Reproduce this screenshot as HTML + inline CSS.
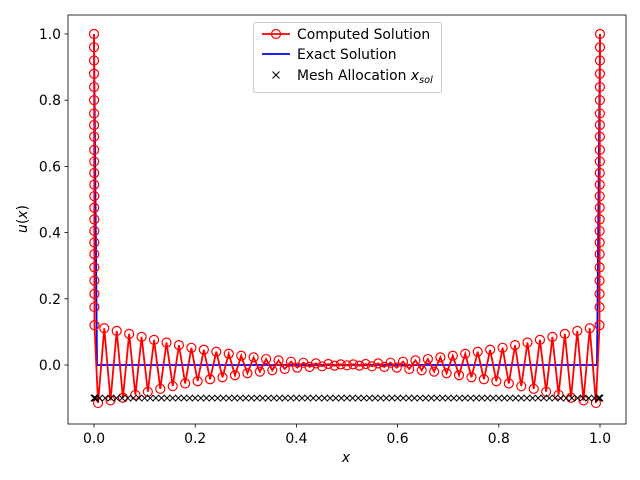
<!DOCTYPE html>
<html><head><meta charset="utf-8"><style>
body{margin:0;background:#fff;}
svg{display:block;font-family:"DejaVu Sans","Liberation Sans",sans-serif;}
</style></head><body>
<svg id="chart" width="640" height="480" viewBox="0 0 640 480"></svg>
<script>
const xTicks=[0,0.2,0.4,0.6,0.8,1.0];
const xTickLabels=["0.0","0.2","0.4","0.6","0.8","1.0"];
const yTicks=[0,0.2,0.4,0.6,0.8,1.0];
const yTickLabels=["0.0","0.2","0.4","0.6","0.8","1.0"];
const leftClusterY=[1.0,0.96,0.92,0.88,0.84,0.80,0.76,0.725,0.69,0.65,0.615,0.58,0.545,0.51,0.475,0.44,0.405,0.37,0.335,0.295,0.255,0.215,0.175,0.12];
const interiorX=[0.008,0.0203,0.0326,0.0449,0.0572,0.0695,0.0818,0.0941,0.1064,0.1187,
0.131,0.1433,0.1556,0.1679,0.1802,0.1925,0.2048,0.2171,0.2294,0.2417,
0.254,0.2663,0.2786,0.2909,0.3032,0.3155,0.3278,0.3401,0.3524,0.3647,
0.377,0.3893,0.4016,0.4139,0.4262,0.4385,0.4508,0.4631,0.4754,0.4877,
0.5,0.5123,0.5246,0.5369,0.5492,0.5615,0.5738,0.5861,0.5984,0.6107,
0.623,0.6353,0.6476,0.6599,0.6722,0.6845,0.6968,0.7091,0.7214,0.7337,
0.746,0.7583,0.7706,0.7829,0.7952,0.8075,0.8198,0.8321,0.8444,0.8567,
0.869,0.8813,0.8936,0.9059,0.9182,0.9305,0.9428,0.9551,0.9674,0.9797,0.992];
const interiorY=[-0.115,0.111,-0.107,0.103,-0.099,0.094,-0.090,0.085,-0.081,0.076,
-0.072,0.068,-0.064,0.060,-0.056,0.052,-0.049,0.046,-0.043,0.040,
-0.037,0.034,-0.031,0.028,-0.025,0.023,-0.020,0.018,-0.016,0.014,
-0.012,0.010,-0.008,0.007,-0.006,0.005,-0.004,0.003,-0.002,0.002,
-0.001,0.002,-0.002,0.003,-0.004,0.005,-0.006,0.007,-0.008,0.010,
-0.012,0.014,-0.016,0.018,-0.020,0.023,-0.025,0.028,-0.031,0.034,
-0.037,0.040,-0.043,0.046,-0.049,0.052,-0.056,0.060,-0.064,0.068,
-0.072,0.076,-0.081,0.085,-0.090,0.094,-0.099,0.103,-0.107,0.111,-0.115];
const rightClusterY=[0.12,0.175,0.215,0.255,0.295,0.335,0.37,0.405,0.44,0.475,0.51,0.545,0.58,0.615,0.65,0.69,0.725,0.76,0.80,0.84,0.88,0.92,0.96,1.0];
const exactX=[0,0.006,0.994,1];
const exactY=[1,0,0,1];
const meshX=[0,0.001,0.002,0.003,
.0111,.0222,.0333,.0444,.0556,.0667,.0778,.0889,.1,
.1111,.1222,.1333,.1444,.1556,.1667,.1778,.1889,.2,
.2111,.2222,.2333,.2444,.2556,.2667,.2778,.2889,.3,
.3111,.3222,.3333,.3444,.3556,.3667,.3778,.3889,.4,
.4111,.4222,.4333,.4444,.4556,.4667,.4778,.4889,.5,
.5111,.5222,.5333,.5444,.5556,.5667,.5778,.5889,.6,
.6111,.6222,.6333,.6444,.6556,.6667,.6778,.6889,.7,
.7111,.7222,.7333,.7444,.7556,.7667,.7778,.7889,.8,
.8111,.8222,.8333,.8444,.8556,.8667,.8778,.8889,.9,
.9111,.9222,.9333,.9444,.9556,.9667,.9778,.9889,
0.997,0.998,0.999,1];
const meshY=-0.1;

const L=68,R=626,T=15,B=424;
function sx(v){return 94+v*506;}
function sy(v){return 365-v*331;}
const NS="http://www.w3.org/2000/svg";
const svg=document.getElementById('chart');
function mk(tag,attrs,parent){const e=document.createElementNS(NS,tag);for(const k in attrs)e.setAttribute(k,attrs[k]);(parent||svg).appendChild(e);return e;}
const FS=13.9;

xTicks.forEach((v,i)=>{
  const t=mk('line',{x1:sx(v),x2:sx(v),y1:B,y2:B+3.5,stroke:'#000','stroke-width':0.8});
  
  
  const l=mk('text',{x:sx(v),y:B+19,'font-size':FS,'text-anchor':'middle'});
  l.textContent=xTickLabels[i];
  
  
});
yTicks.forEach((v,i)=>{
  const t=mk('line',{x1:L-3.5,x2:L,y1:sy(v),y2:sy(v),stroke:'#000','stroke-width':0.8});
  
  
  const l=mk('text',{x:L-7,y:sy(v)+5,'font-size':FS,'text-anchor':'end'});
  l.textContent=yTickLabels[i];
  
  
});

const ex=mk('polyline',{points:exactX.map((x,i)=>sx(x)+','+sy(exactY[i])).join(' '),fill:'none',stroke:'#0000ff','stroke-width':1.8});



const cx=[],cy=[];
leftClusterY.forEach((y,i)=>{cx.push(i*0.00004);cy.push(y);});
interiorX.forEach((x,i)=>{cx.push(x);cy.push(interiorY[i]);});
rightClusterY.forEach((y,i)=>{cx.push(1-(rightClusterY.length-1-i)*0.00004);cy.push(y);});
const cl=mk('polyline',{points:cx.map((x,i)=>sx(x)+','+sy(cy[i])).join(' '),fill:'none',stroke:'#ff0000','stroke-width':1.8});


cx.forEach((x,i)=>{
  const c=mk('circle',{cx:sx(x),cy:sy(cy[i]),r:4.5,fill:'none',stroke:'#ff0000','stroke-width':1.2});
  
  
});

meshX.forEach(x=>{
  const X=sx(x),Y=sy(meshY),s=3.2;
  const p=mk('path',{d:`M${X-s},${Y-s}L${X+s},${Y+s}M${X-s},${Y+s}L${X+s},${Y-s}`,stroke:'#000','stroke-width':1});
  
  
});

const fr=mk('rect',{x:L,y:T,width:R-L,height:B-T,fill:'none',stroke:'#000','stroke-width':0.8});



const xl=mk('text',{x:346,y:462,'font-size':FS,'text-anchor':'middle','font-style':'italic'});
xl.textContent='x';


const yl=mk('text',{x:0,y:0,'font-size':FS,'text-anchor':'middle',transform:'translate(27,219) rotate(-90)'});
yl.innerHTML='<tspan font-style="italic">u</tspan>(<tspan font-style="italic">x</tspan>)';



const lg=mk('g',{});


mk('rect',{x:253.5,y:22.5,width:188,height:70,rx:2,fill:'#fff','fill-opacity':0.8,stroke:'#ccc','stroke-width':1},lg);
const e1=mk('g',{},lg);


mk('line',{x1:262,x2:290,y1:34,y2:34,stroke:'#ff0000','stroke-width':1.8},e1);
mk('circle',{cx:276,cy:34,r:4.5,fill:'none',stroke:'#ff0000','stroke-width':1.2},e1);
mk('text',{x:297,y:39,'font-size':FS},e1).textContent='Computed Solution';
const e2=mk('g',{},lg);


mk('line',{x1:262,x2:290,y1:54,y2:54,stroke:'#0000ff','stroke-width':1.8},e2);
mk('text',{x:297,y:59,'font-size':FS},e2).textContent='Exact Solution';
const e3=mk('g',{},lg);


mk('path',{d:'M272.5,71.5L279.5,78.5M272.5,78.5L279.5,71.5',stroke:'#000','stroke-width':1},e3);
const t3=mk('text',{x:297,y:80,'font-size':FS},e3);
t3.innerHTML='Mesh Allocation <tspan font-style="italic">x</tspan><tspan font-style="italic" font-size="9.7" dy="3">sol</tspan>';
</script>
</body></html>
